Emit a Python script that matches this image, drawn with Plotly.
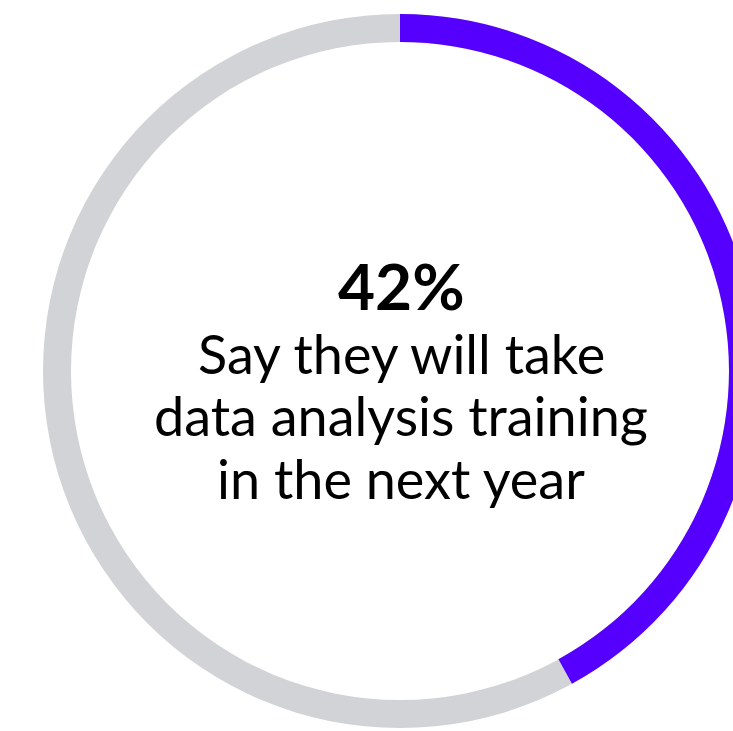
import plotly.graph_objects as go

labels = ["Will take training", "Other"]
values = [42, 58]
colors = ["#5500FF", "rgba(0,0,0,0)"]
headline = "42%"
body_lines = ["Say they will take", "data analysis training", "in the next year"]

W, H = 800, 731
cx, cy, R = 400, 371, 357
dom_x = [(cx - R) / W, (cx + R) / W]
dom_y = [(H - cy - R) / H, (H - cy + R) / H]
hole = (R - 28) / R

fig = go.Figure()
fig.add_trace(go.Pie(values=[1], labels=["All"], marker=dict(colors=["#D2D3D7"]),
                     hole=hole, sort=False, textinfo="none", hoverinfo="skip",
                     showlegend=False, domain=dict(x=dom_x, y=dom_y)))
fig.add_trace(go.Pie(values=values, labels=labels, marker=dict(colors=colors),
                     hole=hole, sort=False, direction="clockwise", rotation=0,
                     textinfo="none", hoverinfo="skip", showlegend=False,
                     domain=dict(x=dom_x, y=dom_y)))

xc = 401 / W
fig.add_annotation(text="<b>" + headline + "</b>", x=xc, y=1 - 285 / H, xref="paper", yref="paper",
                   showarrow=False, xanchor="center", yanchor="middle",
                   font=dict(family="Lato", size=64, color="#000000", weight=900))
for i, line in enumerate(body_lines):
    fig.add_annotation(text=line, x=xc, y=1 - (353 + 62.5 * i) / H, xref="paper", yref="paper",
                       showarrow=False, xanchor="center", yanchor="middle",
                       font=dict(family="Lato", size=54, color="#000000"))

fig.update_layout(width=W, height=H, margin=dict(l=0, r=0, t=0, b=0),
                  paper_bgcolor="white", plot_bgcolor="white")

fig.write_html("out.html", post_script="document.body.style.margin='0';document.body.style.overflow='hidden';document.documentElement.style.overflow='hidden';")
